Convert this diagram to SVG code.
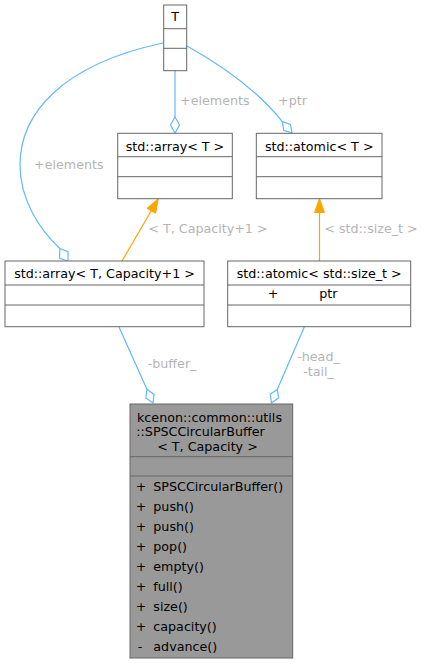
<svg xmlns="http://www.w3.org/2000/svg" width="426" height="664" viewBox="0 0 426 664">
<style>
text{font-family:"DejaVu Sans",sans-serif;font-size:12.7px;fill:#000}
.box{fill:#fff;stroke:#666;stroke-width:1}
.main{fill:#999;stroke:#666;stroke-width:1}
.sep{stroke:#666;stroke-width:1}
.mid{text-anchor:middle}
.lbl{fill:#b4b4b4}
.agg{fill:none;stroke:#63b8ff;stroke-width:1.2}
.aggd{fill:#fff;stroke:#63b8ff;stroke-width:1.2}
.inh{fill:none;stroke:#ffa500;stroke-width:1.2}
.inhh{fill:#ffa500;stroke:#ffa500;stroke-width:1}
</style>
<rect width="426" height="664" fill="#fff"/>
<g id="edges">
<path class="agg" d="M175,71 L175,117"/>
<polygon class="aggd" points="175,117 179.5,125 175,133 170.5,125"/>
<path class="agg" d="M187,46 C230,70 262,96 282.3,121.6"/>
<polygon class="aggd" points="282.3,121.6 290.5,124.4 292,133 283.7,130.2"/>
<path class="agg" d="M163,43 C60,65 20,115 20,165 C20,200 40,230 59.8,248.5"/>
<polygon class="aggd" points="59.8,248.5 68.1,251.7 68,261 59.6,258.4"/>
<path class="inh" d="M122,261 L151.3,210.8"/>
<polygon class="inhh" points="158.3,198.7 155.6,213.3 147,208.3"/>
<path class="inh" d="M319.5,261 L319.5,212.5"/>
<polygon class="inhh" points="319.5,198.7 324.5,212.5 314.5,212.5"/>
<path class="agg" d="M119,327 L146.9,389.3"/>
<polygon class="aggd" points="146.9,389.3 154.1,394.4 153,403 145.8,398"/>
<path class="agg" d="M304.3,327 L277.4,389.2"/>
<polygon class="aggd" points="277.4,389.2 278.6,397.9 271.5,403 270.3,394.3"/>
<text class="lbl" x="180" y="105">+elements</text>
<text class="lbl" x="278" y="105">+ptr</text>
<text class="lbl" x="34" y="169">+elements</text>
<text class="lbl" x="148.3" y="233.3">&lt; T, Capacity+1 &gt;</text>
<text class="lbl" x="324.3" y="233.3">&lt; std::size_t &gt;</text>
<text class="lbl" x="147.7" y="368">-buffer_</text>
<text class="lbl mid" x="318.5" y="361">-head_</text>
<text class="lbl mid" x="318.5" y="376">-tail_</text>
</g>
<g id="node_T">
<rect class="box" x="163.7" y="5" width="23" height="65.7"/>
<line class="sep" x1="163.7" y1="28.7" x2="186.7" y2="28.7"/>
<line class="sep" x1="163.7" y1="48.3" x2="186.7" y2="48.3"/>
<text class="mid" x="175.2" y="20.7">T</text>
</g>
<g id="node_array_T">
<rect class="box" x="117.7" y="133.3" width="114.6" height="65.4"/>
<line class="sep" x1="117.7" y1="156.7" x2="232.3" y2="156.7"/>
<line class="sep" x1="117.7" y1="176.7" x2="232.3" y2="176.7"/>
<text class="mid" x="175" y="150.7">std::array&lt; T &gt;</text>
</g>
<g id="node_atomic_T">
<rect class="box" x="256.3" y="133.3" width="125.7" height="65.4"/>
<line class="sep" x1="256.3" y1="156.7" x2="382" y2="156.7"/>
<line class="sep" x1="256.3" y1="176.7" x2="382" y2="176.7"/>
<text class="mid" x="319.2" y="150.7">std::atomic&lt; T &gt;</text>
</g>
<g id="node_array_cap">
<rect class="box" x="5" y="261" width="199" height="65.7"/>
<line class="sep" x1="5" y1="285" x2="204" y2="285"/>
<line class="sep" x1="5" y1="305" x2="204" y2="305"/>
<text class="mid" x="104.5" y="278.3">std::array&lt; T, Capacity+1 &gt;</text>
</g>
<g id="node_atomic_size">
<rect class="box" x="227.7" y="261" width="183" height="65.7"/>
<line class="sep" x1="227.7" y1="285" x2="410.7" y2="285"/>
<line class="sep" x1="227.7" y1="305" x2="410.7" y2="305"/>
<text class="mid" x="319.2" y="278.3">std::atomic&lt; std::size_t &gt;</text>
<text class="mid" x="273" y="298">+</text>
<text x="319.3" y="298">ptr</text>
</g>
<g id="node_main">
<rect class="main" x="130" y="404" width="162.7" height="254"/>
<line class="sep" x1="130" y1="456.7" x2="292.7" y2="456.7"/>
<line class="sep" x1="130" y1="476" x2="292.7" y2="476"/>
<text x="137" y="421.5">kcenon::common::utils</text>
<text x="136.3" y="436">::SPSCCircularBuffer</text>
<text class="mid" x="207.5" y="450.5">&lt; T, Capacity &gt;</text>
<text class="mid" x="141" y="490.7">+</text><text x="153.3" y="490.7">SPSCCircularBuffer()</text>
<text class="mid" x="141" y="510.7">+</text><text x="153.3" y="510.7">push()</text>
<text class="mid" x="141" y="530.7">+</text><text x="153.3" y="530.7">push()</text>
<text class="mid" x="141" y="550.7">+</text><text x="153.3" y="550.7">pop()</text>
<text class="mid" x="141" y="570.7">+</text><text x="153.3" y="570.7">empty()</text>
<text class="mid" x="141" y="590.7">+</text><text x="153.3" y="590.7">full()</text>
<text class="mid" x="141" y="610.7">+</text><text x="153.3" y="610.7">size()</text>
<text class="mid" x="141" y="630.7">+</text><text x="153.3" y="630.7">capacity()</text>
<text class="mid" x="140" y="650.7">-</text><text x="153.3" y="650.7">advance()</text>
</g>
</svg>
